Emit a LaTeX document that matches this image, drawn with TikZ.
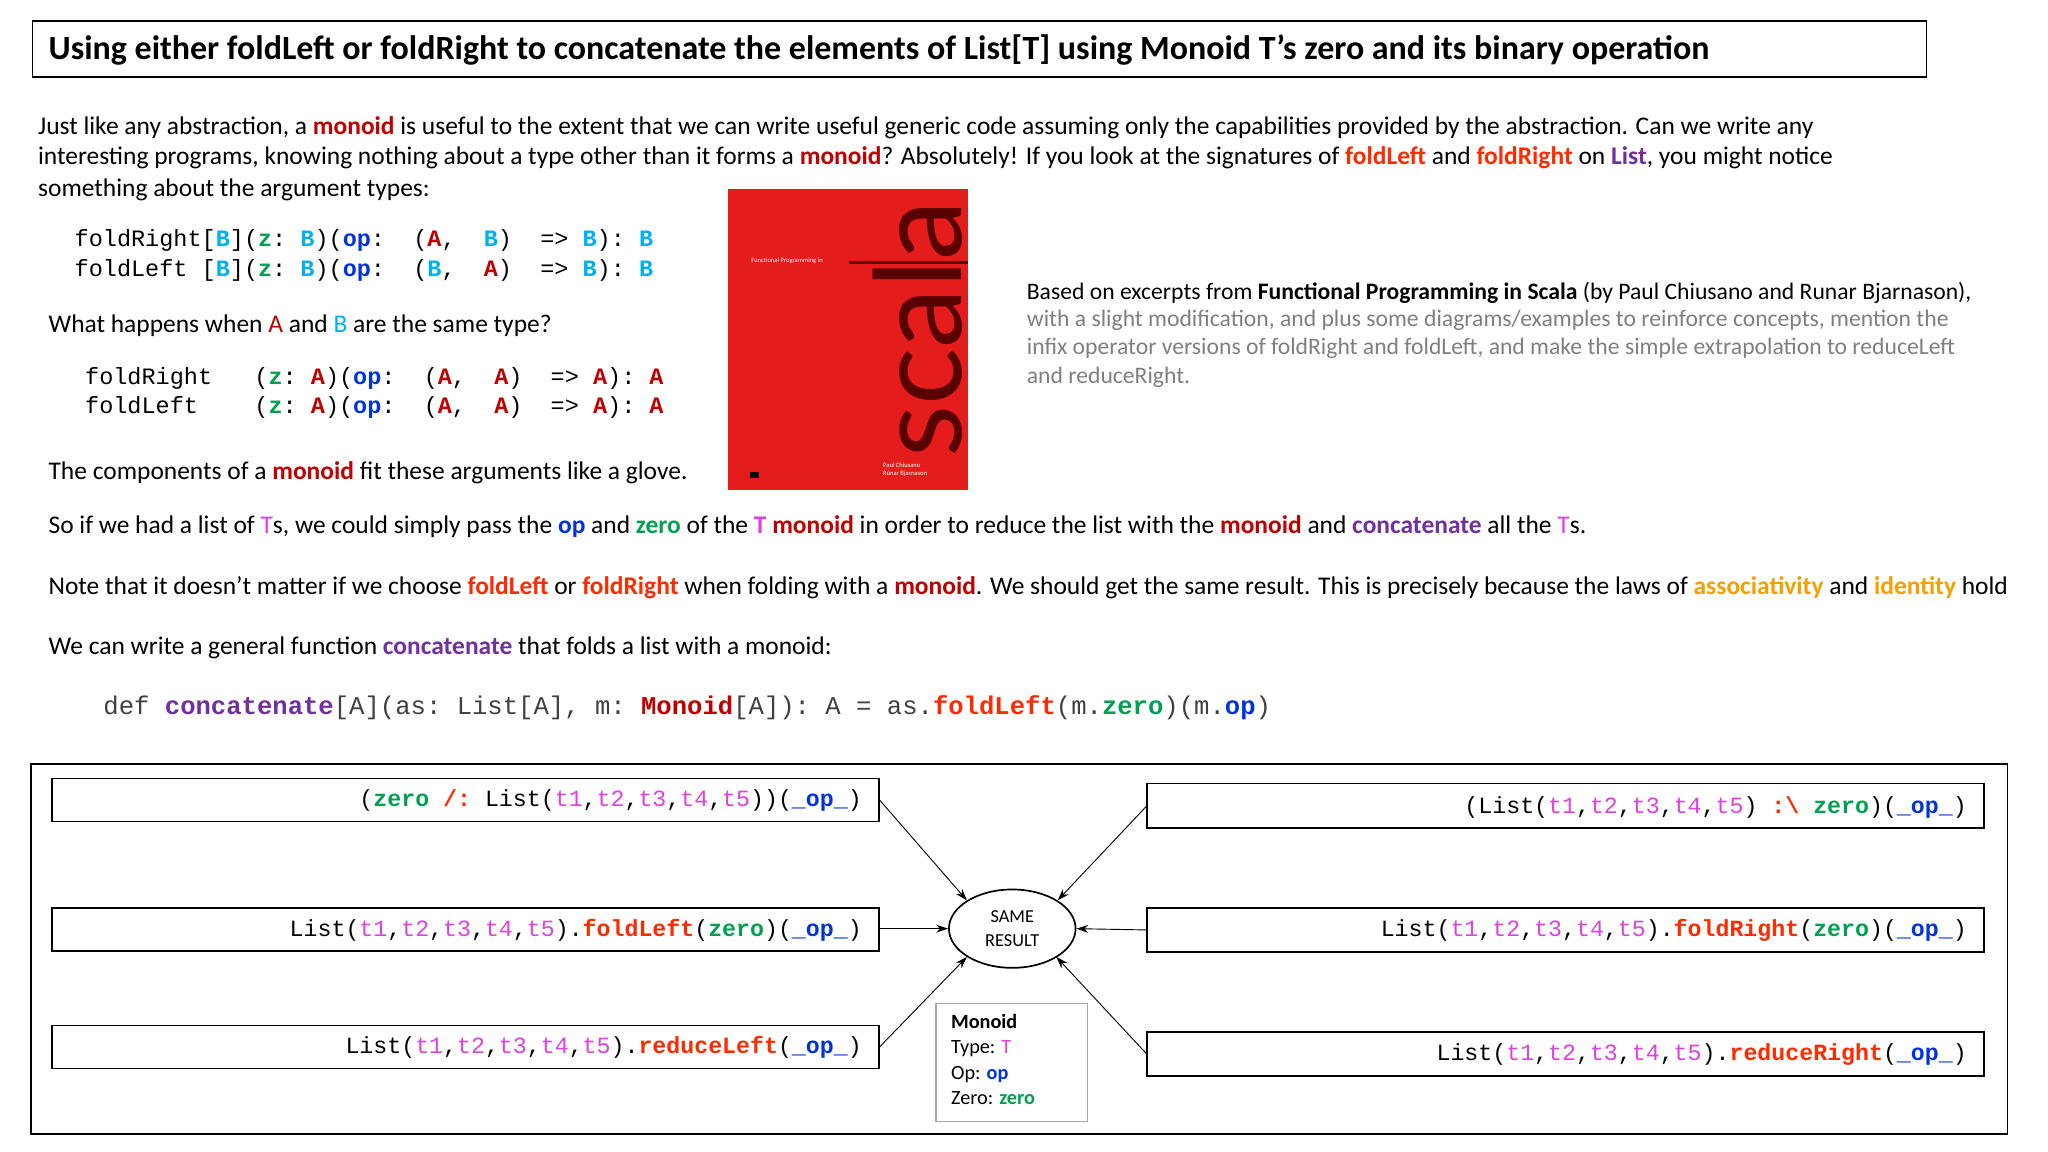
\documentclass[tikz,border=0pt]{standalone}
\usepackage{fontspec}
\setmainfont{Carlito}
\setmonofont{Liberation Mono}
\usetikzlibrary{arrows.meta,shapes.geometric}
\definecolor{mred}{HTML}{C00000}
\definecolor{fred}{HTML}{FF2A00}
\definecolor{lpur}{HTML}{7030A0}
\definecolor{opb}{HTML}{0033DD}
\definecolor{zgr}{HTML}{00A050}
\definecolor{tmag}{HTML}{E040E0}
\definecolor{aor}{HTML}{F5A000}
\definecolor{bcy}{HTML}{00B0F0}
\definecolor{gtx}{HTML}{7F7F7F}
\definecolor{book}{HTML}{E41C1C}
\newcommand\cb[2]{\textcolor{#1}{\textbf{#2}}}
\newcommand\cc[2]{\textcolor{#1}{#2}}
\newcommand\tl{List(\cc{tmag}{t1},\cc{tmag}{t2},\cc{tmag}{t3},\cc{tmag}{t4},\cc{tmag}{t5})}
\tikzset{
  txt/.style={anchor=west,inner sep=0pt,font=\fontsize{19.5}{22}\selectfont},
  code/.style={anchor=west,inner sep=0pt,font=\fontsize{18}{20}\selectfont\ttfamily},
  cbox/.style={draw,line width=1.2pt,minimum height=33pt,inner sep=0pt},
  btxt/.style={anchor=east,inner sep=0pt,font=\fontsize{17.8}{20}\selectfont\ttfamily},
  arr/.style={-{Stealth[length=9pt,width=6pt]},line width=0.7pt}
}
\begin{document}
\begin{tikzpicture}[x=1pt,y=-1pt]
\useasboundingbox (0,0) rectangle (1568,882);
\draw[line width=1pt] (25,16) rectangle (1475,59);
\node[txt,font=\fontsize{26}{28}\selectfont\bfseries] (title) at (37,38) {Using either foldLeft or foldRight to concatenate the elements of List[T] using Monoid T’s zero and its binary operation};
\node[txt] (p1) at (29,98) {Just like any abstraction, a \cb{mred}{monoid} is useful to the extent that we can write useful generic code assuming only the capabilities provided by the abstraction. Can we write any};
\node[txt] (p2) at (29,121) {interesting programs, knowing nothing about a type other than it forms a \cb{mred}{monoid}? Absolutely! If you look at the signatures of \cb{fred}{foldLeft} and \cb{fred}{foldRight} on \cb{lpur}{List}, you might notice};
\node[txt] (p3) at (29,145) {something about the argument types:};
\node[code] (c1) at (57,184) {foldRight[\cb{bcy}{B}](\cb{zgr}{z}:\ \cb{bcy}{B})(\cb{opb}{op}:\ \ (\cb{mred}{A},\ \ \cb{bcy}{B})\ \ =>\ \cb{bcy}{B}):\ \cb{bcy}{B}};
\node[code] (c2) at (57,207) {foldLeft\ [\cb{bcy}{B}](\cb{zgr}{z}:\ \cb{bcy}{B})(\cb{opb}{op}:\ \ (\cb{bcy}{B},\ \ \cb{mred}{A})\ \ =>\ \cb{bcy}{B}):\ \cb{bcy}{B}};
\node[txt] (q) at (37,249) {What happens when \cc{mred}{A} and \cc{bcy}{B} are the same type?};
\node[code] (c3) at (65,290) {foldRight\ \ \ (\cb{zgr}{z}:\ \cb{mred}{A})(\cb{opb}{op}:\ \ (\cb{mred}{A},\ \ \cb{mred}{A})\ \ =>\ \cb{mred}{A}):\ \cb{mred}{A}};
\node[code] (c4) at (65,312) {foldLeft\ \ \ \ (\cb{zgr}{z}:\ \cb{mred}{A})(\cb{opb}{op}:\ \ (\cb{mred}{A},\ \ \cb{mred}{A})\ \ =>\ \cb{mred}{A}):\ \cb{mred}{A}};
\node[txt] (glove) at (37,362) {The components of a \cb{mred}{monoid} fit these arguments like a glove.};
% book cover
\begin{scope}
\clip (557,145) rectangle (741,375);
\fill[book] (557,145) rectangle (741,375);
\draw[black!65!red,line width=3pt] (650,201) -- (741,201);
\node[rotate=90,anchor=north,inner sep=0pt,text=black!65!red,font=\fontsize{92}{92}\selectfont\fontspec{Lato}] (scala) at (668,252) {scala};
\end{scope}
\node[anchor=west,inner sep=0pt,text=white,font=\fontsize{5}{6}\selectfont] (fp) at (575,200) {Functional Programming in};
\node[anchor=west,inner sep=0pt,text=white,font=\fontsize{5}{6}\selectfont,align=left] (au) at (676,360) {Paul Chiusano\\Rúnar Bjarnason};
\fill[black] (574,361) rectangle (581,366);
\node[txt,font=\fontsize{18.1}{20}\selectfont] (r1) at (786,224) {Based on excerpts from \textbf{Functional Programming in Scala} (by Paul Chiusano and Runar Bjarnason),};
\node[txt,font=\fontsize{18.1}{20}\selectfont,text=gtx] (r2) at (786,245) {with a slight modification, and plus some diagrams/examples to reinforce concepts, mention the};
\node[txt,font=\fontsize{18.1}{20}\selectfont,text=gtx] (r3) at (786,267) {infix operator versions of foldRight and foldLeft, and make the simple extrapolation to reduceLeft};
\node[txt,font=\fontsize{18.1}{20}\selectfont,text=gtx] (r4) at (786,289) {and reduceRight.};
\node[txt] (s1) at (37,403) {So if we had a list of \cc{tmag}{T}s, we could simply pass the \cb{opb}{op} and \cb{zgr}{zero} of the \cb{tmag}{T} \cb{mred}{monoid} in order to reduce the list with the \cb{mred}{monoid} and \cb{lpur}{concatenate} all the \cc{tmag}{T}s.};
\node[txt] (s2) at (37,450) {Note that it doesn’t matter if we choose \cb{fred}{foldLeft} or \cb{fred}{foldRight} when folding with a \cb{mred}{monoid}. We should get the same result. This is precisely because the laws of \cb{aor}{associativity} and \cb{aor}{identity} hold};
\node[txt] (s3) at (37,496) {We can write a general function \cb{lpur}{concatenate} that folds a list with a monoid:};
\node[code,font=\fontsize{19.6}{20}\selectfont\ttfamily] (c5) at (79,542) {\cc{black!75}{def} \cb{lpur}{concatenate}\cc{black!75}{[A](as: List[A], m: }\cb{mred}{Monoid}\cc{black!75}{[A]): A = as.}\cb{fred}{foldLeft}\cc{black!75}{(m.}\cb{zgr}{zero}\cc{black!75}{)(m.}\cb{opb}{op}\cc{black!75}{)}};
% bottom diagram
\draw[line width=1.3pt] (24,585) rectangle (1537,868);
\draw[cbox] (40,596) rectangle (673,629);
\draw[cbox] (40,695) rectangle (673,728);
\draw[cbox] (40,785) rectangle (673,818);
\draw[cbox] (878,600) rectangle (1519,634);
\draw[cbox] (878,695) rectangle (1519,729);
\draw[cbox] (878,790) rectangle (1519,824);
\coordinate (L1) at (673,612);
\coordinate (L2) at (673,711);
\coordinate (L3) at (673,802);
\coordinate (R1) at (878,617);
\coordinate (R2) at (878,712);
\coordinate (R3) at (878,807);
\node[btxt] (t1) at (660,613) {(\cb{zgr}{zero} \cb{fred}{/:} \tl)(\cb{opb}{\_op\_})};
\node[btxt] (t2) at (660,712) {\tl.\cb{fred}{foldLeft}(\cb{zgr}{zero})(\cb{opb}{\_op\_})};
\node[btxt] (t3) at (660,802) {\tl.\cb{fred}{reduceLeft}(\cb{opb}{\_op\_})};
\node[btxt] (t4) at (1506,618) {(\tl{} \cb{fred}{:\textbackslash} \cb{zgr}{zero})(\cb{opb}{\_op\_})};
\node[btxt] (t5) at (1506,712) {\tl.\cb{fred}{foldRight}(\cb{zgr}{zero})(\cb{opb}{\_op\_})};
\node[btxt] (t6) at (1506,807) {\tl.\cb{fred}{reduceRight}(\cb{opb}{\_op\_})};
\node[ellipse,draw,line width=1.3pt,minimum width=97pt,minimum height=60pt,inner sep=0pt,align=center,font=\fontsize{14}{18}\selectfont] (res) at (775,711) {SAME\\RESULT};
\draw[arr] (L1) -- (res.north west);
\draw[arr] (R1) -- (res.north east);
\draw[arr] (L2) -- (res.west);
\draw[arr] (R2) -- (res.east);
\draw[arr] (L3) -- (res.south west);
\draw[arr] (R3) -- ([xshift=-1pt]res.south east);
\node[draw=black!35,line width=1pt,minimum width=116pt,minimum height=90pt,anchor=north west] (mbox) at (716,768) {};
\node[anchor=north west,inner sep=0pt,align=left,font=\fontsize{15.5}{19.6}\selectfont] (mtxt) at (728,776) {\textbf{Monoid}\\Type: \cc{tmag}{T}\\Op: \cb{opb}{op}\\Zero: \cb{zgr}{zero}};
\end{tikzpicture}
\end{document}
